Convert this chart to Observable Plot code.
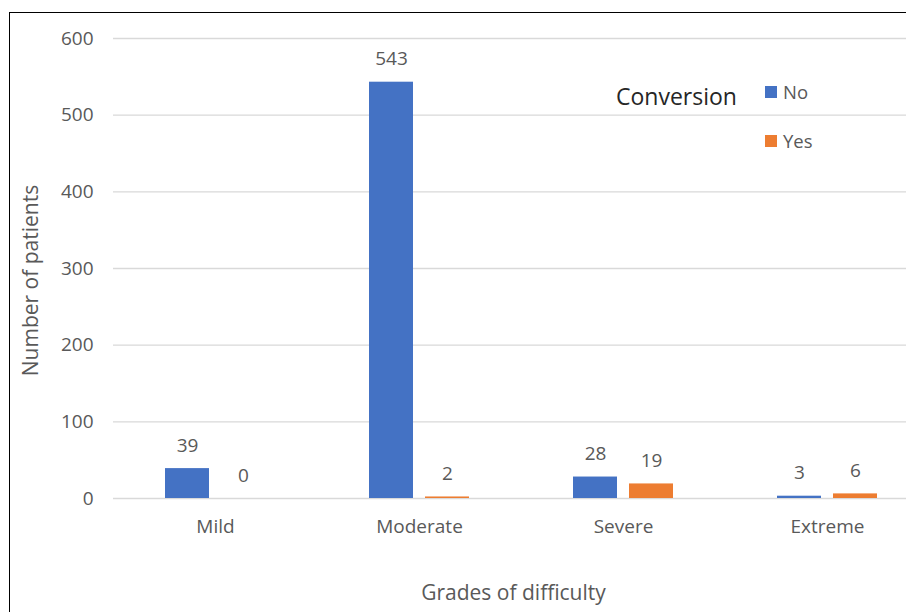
<!DOCTYPE html>
<html>
<head>
<meta charset="utf-8">
<script src="https://cdn.jsdelivr.net/npm/d3@7"></script>
<script src="https://cdn.jsdelivr.net/npm/@observablehq/plot@0.6"></script>
<style>
  html, body { margin: 0; padding: 0; background: #fff; overflow: hidden; width: 906px; height: 612px; }
  #frame { position: absolute; left: 9px; top: 12px; width: 940px; height: 640px;
           border-left: 1.5px solid #000; border-top: 1.5px solid #000; overflow: hidden; }
  #chart { position: absolute; left: 0; top: 0; }
  .legend { position: absolute; font-family: "Open Sans", sans-serif; }
  .legtitle { left: 606px; top: 67px; font-size: 23px; color: #262626; }
  .legitem { font-size: 18.5px; color: #595959; display: flex; align-items: center; }
  .sw { width: 12px; height: 12px; display: inline-block; margin-right: 6px; }
</style>
</head>
<body>
<div id="frame">
  <div id="chart"></div>
  <div class="legend legtitle">Conversion</div>
  <div class="legend legitem" style="left:755px; top:66px;"><span class="sw" style="background:#4472C4"></span>No</div>
  <div class="legend legitem" style="left:755px; top:115px;"><span class="sw" style="background:#ED7D31"></span>Yes</div>
</div>
<script>
const categories = ["Mild", "Moderate", "Severe", "Extreme"];
const seriesNames = ["No", "Yes"];
const noValues = [39, 543, 28, 3];
const yesValues = [0, 2, 19, 6];
const yTicks = [0, 100, 200, 300, 400, 500, 600];
const colors = ["#4472C4", "#ED7D31"];
const yTitle = "Number of patients";
const xTitle = "Grades of difficulty";

const data = [];
categories.forEach((c, i) => {
  data.push({grade: c, conversion: "No", value: noValues[i]});
  data.push({grade: c, conversion: "Yes", value: yesValues[i]});
});

const chart = Plot.plot({
  width: 919,
  height: 599,
  marginLeft: 103,
  marginRight: 0,
  marginTop: 25,
  marginBottom: 114,
  style: {fontFamily: "Open Sans, sans-serif", fontSize: "19px", color: "#595959", background: "transparent"},
  fx: {domain: categories, padding: 0},
  x: {domain: seriesNames, paddingInner: 0.21, paddingOuter: 0.895, axis: null},
  y: {domain: [0, 600]},
  color: {domain: seriesNames, range: colors},
  marks: [
    Plot.gridY(yTicks, {stroke: "#d9d9d9", strokeOpacity: 1, strokeWidth: 1.3}),
    Plot.axisY(yTicks, {tickSize: 0, tickPadding: 20, fontSize: 19, fill: "#595959", label: null}),
    Plot.axisFx({anchor: "bottom", tickSize: 0, tickPadding: 21, fontSize: 19, fill: "#595959", label: null}),
    Plot.text([yTitle], {facet: "super", frameAnchor: "left", text: d => d, rotate: -90, textAnchor: "middle",
      lineAnchor: "middle", dx: -82, dy: 12, fontSize: 21, fill: "#595959"}),
    Plot.text([xTitle], {facet: "super", frameAnchor: "bottom", text: d => d, textAnchor: "middle",
      lineAnchor: "middle", dx: -8, dy: 95, fontSize: 21, fill: "#595959"}),
    Plot.barY(data, {fx: "grade", x: "conversion", y: "value", fill: "conversion"}),
    Plot.text(data, {fx: "grade", x: "conversion", y: "value", text: d => String(d.value),
      dy: -23, fontSize: 19, fill: "#595959"})
  ]
});
document.getElementById("chart").appendChild(chart);
</script>
</body>
</html>
